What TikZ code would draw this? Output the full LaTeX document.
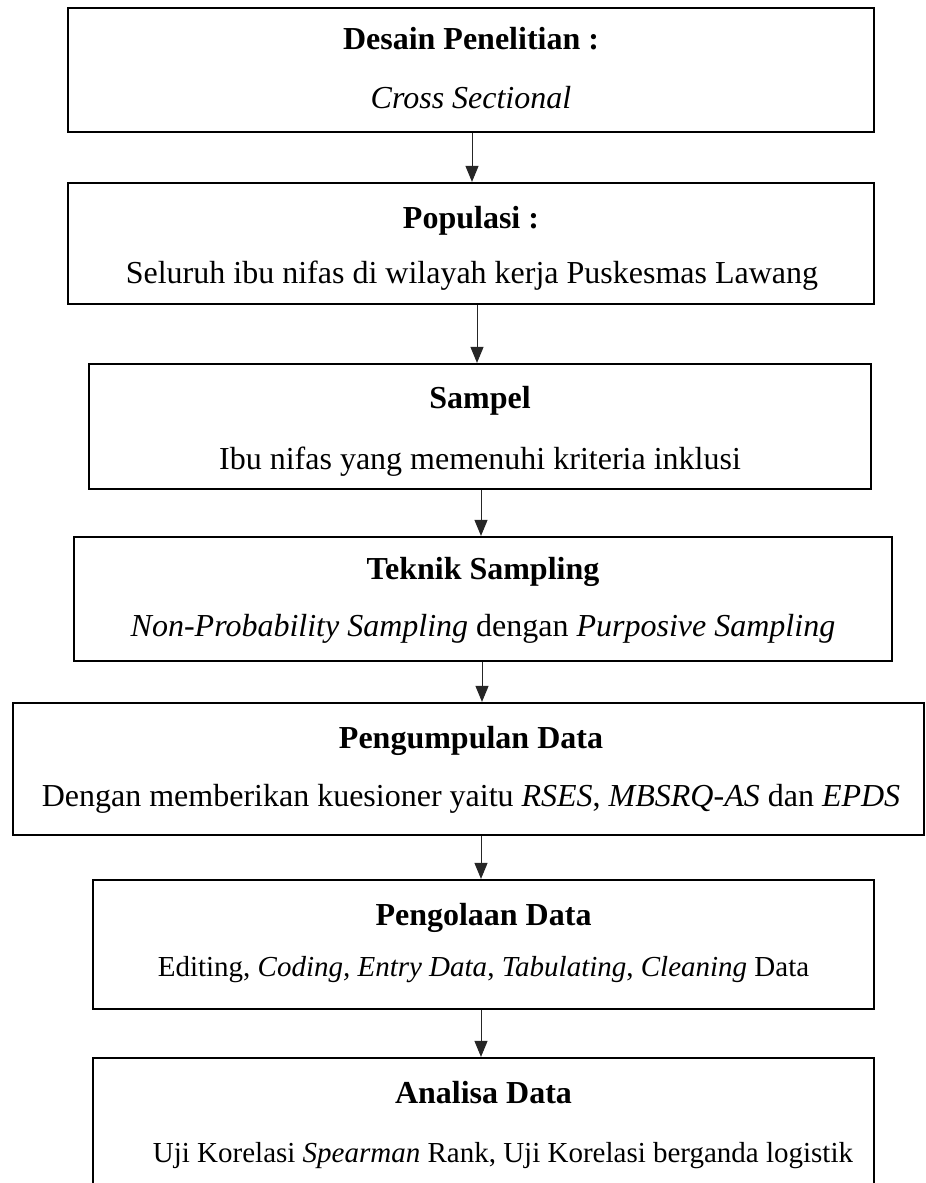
\documentclass[tikz,border=0pt]{standalone}
\usepackage{fontspec}
\setmainfont{Liberation Serif}
\usetikzlibrary{arrows.meta}
\begin{document}
\begin{tikzpicture}[x=1pt,y=-1pt,
  stagebox/.style={draw=black,line width=2.2pt,rectangle,inner sep=0pt},
  ttl/.style={anchor=base,inner sep=0pt,font=\fontsize{32}{38}\selectfont\bfseries},
  txt/.style={anchor=base,inner sep=0pt,font=\fontsize{32}{38}\selectfont},
  smalltxt/.style={anchor=base,inner sep=0pt,font=\fontsize{29}{35}\selectfont},
  arr/.style={line width=1pt,draw=black!85,-{Triangle[width=13pt,length=16pt]}}]
\useasboundingbox (0,0) rectangle (926,1183);
\clip (0,0) rectangle (926,1183);
\node[stagebox,minimum width=806pt,minimum height=124pt] (b1) at (471,70) {};
\node[stagebox,minimum width=806pt,minimum height=121pt] (b2) at (471,243.5) {};
\node[stagebox,minimum width=782pt,minimum height=125pt] (b3) at (480,426.5) {};
\node[stagebox,minimum width=818pt,minimum height=124pt] (b4) at (483,599) {};
\node[stagebox,minimum width=911pt,minimum height=132pt] (b5) at (468.5,769) {};
\node[stagebox,minimum width=781pt,minimum height=129pt] (b6) at (483.5,944.5) {};
\node[stagebox,minimum width=781pt,minimum height=142pt] (b7) at (483.5,1129) {};

\node[ttl] (t1) at (471,49) {Desain Penelitian :};
\node[txt] (s1) at (471,108) {\itshape Cross Sectional};
\node[ttl] (t2) at (471,228) {Populasi :};
\node[txt] (s2) at (472,283) {Seluruh ibu nifas di wilayah kerja Puskesmas Lawang};
\node[ttl] (t3) at (480,408) {Sampel};
\node[txt] (s3) at (480,469) {Ibu nifas yang memenuhi kriteria inklusi};
\node[ttl] (t4) at (483,579) {Teknik Sampling};
\node[txt] (s4) at (483,636) {\textit{Non-Probability Sampling} dengan \textit{Purposive Sampling}};
\node[ttl] (t5) at (471,748) {Pengumpulan Data};
\node[txt] (s5) at (471,806) {Dengan memberikan kuesioner yaitu \textit{RSES}, \textit{MBSRQ-AS} dan \textit{EPDS}};
\node[ttl] (t6) at (483.5,925) {Pengolaan Data};
\node[smalltxt] (s6) at (483.5,976) {Editing, \textit{Coding, Entry Data}, \textit{Tabulating}, \textit{Cleaning} Data};
\node[ttl] (t7) at (483.5,1103) {Analisa Data};
\node[smalltxt] (s7) at (503,1162) {Uji Korelasi \textit{Spearman} Rank, Uji Korelasi berganda logistik};

\draw[arr] (472,0 |- b1.south) -- (472,0 |- b2.north);
\draw[arr] (477,0 |- b2.south) -- (477,0 |- b3.north);
\draw[arr] (481,0 |- b3.south) -- (481,0 |- b4.north);
\draw[arr] (482,0 |- b4.south) -- (482,0 |- b5.north);
\draw[arr] (481,0 |- b5.south) -- (481,0 |- b6.north);
\draw[arr] (481,0 |- b6.south) -- (481,0 |- b7.north);
\end{tikzpicture}
\end{document}
